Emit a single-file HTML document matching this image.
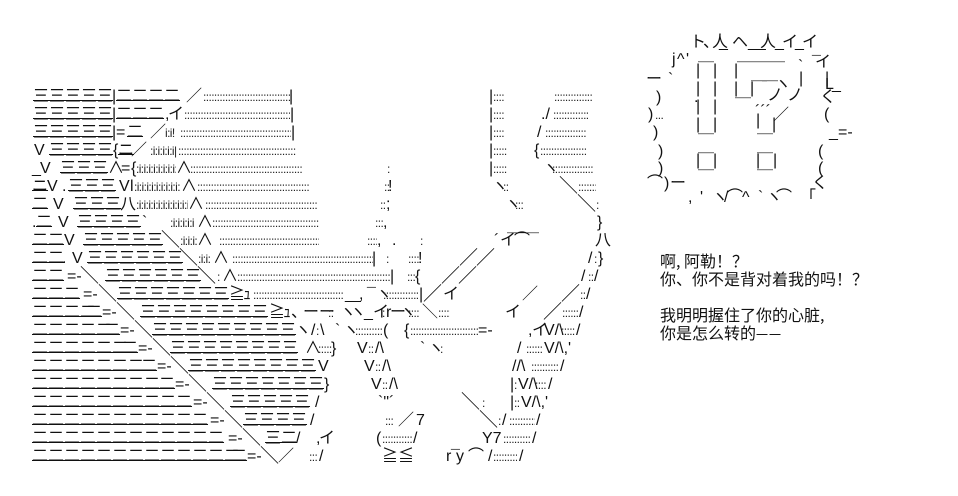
<!DOCTYPE html>
<html><head><meta charset="utf-8"><style>
html,body{margin:0;padding:0;background:#fff;width:958px;height:496px;overflow:hidden}
.r{position:absolute;left:0;width:958px;height:18px}
i,u{position:absolute;top:0;font-style:normal;text-decoration:none;white-space:pre;color:#111;font:16px/18px "Liberation Sans","WenQuanYi Zen Hei","Noto Sans CJK SC",sans-serif}
u{font-size:12px;letter-spacing:-.6px;overflow:hidden;height:18px;color:#222}
i.e{text-decoration:underline;text-decoration-thickness:1px;text-underline-offset:-1px;text-decoration-skip-ink:none}
i.k{font-size:19px}
i.h{font-family:"WenQuanYi Zen Hei","Noto Sans CJK SC",sans-serif}
.t{position:absolute;left:660px;white-space:pre;font:16px/18px "WenQuanYi Zen Hei","Noto Sans CJK SC",sans-serif;color:#111}
</style></head><body>
<div class="r" style="top:88px"><i class="e" style="left:33px">三三三三三</i><i style="left:112px">|</i><i class="e" style="left:116px">二二二二</i><i style="left:186px">／</i><u style="left:203px;width:87px">::::::::::::::::::::::::::::::::::::</u><i style="left:289px">|</i><i style="left:489px">|</i><u style="left:493px;width:11px">::::</u><u style="left:554px;width:38px">:::::::::::::::</u></div>
<div class="r" style="top:106px"><i class="e" style="left:33px">三三三三三</i><i style="left:112px">|</i><i class="e" style="left:116px">二二二</i><i style="left:165px">,</i><i style="left:168px">イ</i><u style="left:184px;width:106px">::::::::::::::::::::::::::::::::::::::::::::</u><i style="left:290px">|</i><i style="left:489px">|</i><u style="left:493px;width:11px">::::</u><i style="left:541px">./</i><u style="left:553px;width:36px">::::::::::::::</u></div>
<div class="r" style="top:124px"><i class="e" style="left:33px">三三三三三</i><i style="left:112px">|</i><i style="left:116px">=</i><i class="e" style="left:127px">二</i><i style="left:150px">／</i><u style="left:165px;width:14px">i:i!</u><u style="left:180px;width:111px">:::::::::::::::::::::::::::::::::::::::::::::::</u><i style="left:291px">|</i><i style="left:489px">|</i><i style="left:537px">/</i><u style="left:545px;width:42px">:::::::::::::::::</u><u style="left:493px;width:11px">::::</u></div>
<div class="r" style="top:142px"><i style="left:34px">V</i><i class="e" style="left:49px">三三三三</i><i style="left:113px">{</i><i class="e" style="left:118px">ニ</i><i style="left:131px">／</i><u style="left:150px;width:28px">:i:i:i:i:i|</u><u style="left:178px;width:118px">:::::::::::::::::::::::::::::::::::::::::::::::::</u><i style="left:489px">|</i><u style="left:493px;width:14px">:::::</u><i style="left:534px">{</i><u style="left:540px;width:47px">:::::::::::::::::::</u></div>
<div class="r" style="top:160px"><i style="left:32px">_</i><i style="left:40px">V</i><i class="e" style="left:60px">三三三</i><i style="left:108px">∧</i><i style="left:121px">=</i><i style="left:131px">{</i><u style="left:136px;width:40px">:i:i:i:i:i:i:i:i:</u><i style="left:176px">∧</i><u style="left:190px;width:113px">::::::::::::::::::::::::::::::::::::::::::::::</u><u style="left:387px;width:4px">:</u><i style="left:489px">|</i><u style="left:493px;width:14px">:::::</u><i style="left:543px">ヽ</i><u style="left:552px;width:42px">:::::::::::::::::</u></div>
<div class="r" style="top:178px"><i class="e" style="left:32px">ニ</i><i style="left:47px">V</i><i style="left:62px">.</i><i class="e" style="left:68px">三三三</i><i style="left:119px">V</i><i style="left:130px">l</i><u style="left:134px;width:46px">:i:i:i:i:i:i:i:i:i:</u><i style="left:181px">∧</i><u style="left:197px;width:113px">::::::::::::::::::::::::::::::::::::::::::::::</u><u style="left:384px;width:6px">::</u><i style="left:388px">!</i><i style="left:492px">ヽ</i><u style="left:503px;width:6px">::</u><i class="k" style="left:559px">＼</i><u style="left:578px;width:18px">:::::::</u></div>
<div class="r" style="top:196px"><i class="e" style="left:32px">二</i><i style="left:53px">V</i><i class="e" style="left:73px">三三三</i><i style="left:120px">八</i><u style="left:136px;width:52px">:i:i:i:i:i:i:i:i:i:i:i</u><i style="left:188px">∧</i><u style="left:205px;width:113px">::::::::::::::::::::::::::::::::::::::::::::::</u><u style="left:380px;width:6px">::</u><i style="left:386px">;</i><i style="left:505px">ヽ</i><u style="left:515px;width:8px">:::</u><i class="k" style="left:577px">＼</i><u style="left:596px;width:4px">:</u></div>
<div class="r" style="top:214px"><i style="left:32px">.</i><i class="e" style="left:36px">二</i><i style="left:58px">V</i><i class="e" style="left:77px">三三三三</i><i style="left:142px">`</i><u style="left:170px;width:27px">:i:i:i:i:i</u><i style="left:197px">∧</i><u style="left:212px;width:107px">:::::::::::::::::::::::::::::::::::::::::::</u><u style="left:375px;width:8px">:::</u><i style="left:383px">,</i><i style="left:597px">}</i></div>
<div class="r" style="top:232px"><i class="e" style="left:32px">二二</i><i style="left:64px">V</i><i class="e" style="left:83px">三三三三三</i><i class="k" style="left:161px">＼</i><u style="left:180px;width:17px">:i:i:i:</u><i style="left:197px">∧</i><u style="left:219px;width:100px">:::::::::::::::::::::::::::::::::::::::::</u><u style="left:367px;width:10px">::::</u><i style="left:377px">,</i><i style="left:392px">.</i><u style="left:420px;width:4px">:</u><i style="left:494px">´</i><i style="left:500px">イ</i><i style="left:514px">⌒</i><i style="left:595px">八</i></div>
<div class="r" style="top:223px"><i class="h" style="left:507px">──</i></div>
<div class="r" style="top:250px"><i class="e" style="left:32px">二二</i><i style="left:62px">.</i><i style="left:72px">V</i><i class="e" style="left:87px">三三三三三三</i><i class="k" style="left:179px">＼</i><u style="left:198px;width:14px">:i:i:</u><i style="left:213px">∧</i><u style="left:232px;width:141px">:::::::::::::::::::::::::::::::::::::::::::::::::::::::::</u><i style="left:372px">|</i><u style="left:386px;width:4px">:</u><u style="left:408px;width:11px">::::</u><i style="left:418px">!</i><i class="k" style="left:459px">／</i><i class="k" style="left:476px">／</i><i style="left:588px">/</i><u style="left:594px;width:4px">:</u><i style="left:598px">}</i></div>
<div class="r" style="top:268px"><i class="e" style="left:32px">二二</i><i style="left:67px">=-</i><i class="k" style="left:80px">＼</i><i class="e" style="left:105px">三三三三三三</i><i class="k" style="left:197px">＼</i><u style="left:217px;width:4px">:</u><i style="left:222px">∧</i><u style="left:237px;width:153px">:::::::::::::::::::::::::::::::::::::::::::::::::::::::::::::</u><i style="left:390px">|</i><u style="left:407px;width:8px">:::</u><i style="left:415px">{</i><i class="k" style="left:441px">／</i><i class="k" style="left:458px">／</i><i style="left:581px">/</i><u style="left:588px;width:6px">::</u><i style="left:594px">/</i></div>
<div class="r" style="top:286px"><i class="e" style="left:32px">二二二</i><i style="left:83px">=-</i><i class="k" style="left:98px">＼</i><i class="e" style="left:117px">三三三三三三三</i><i style="left:229px">≧</i><i style="left:243px">ｭ</i><u style="left:253px;width:90px">:::::::::::::::::::::::::::::::::::::</u><i style="left:345px">_</i><i style="left:352px">_</i><i style="left:359px">,</i><i style="left:367px">¯</i><i style="left:376px">ヽ</i><u style="left:383px;width:36px">:::::::::::::::</u><i style="left:419px">|</i><i class="k" style="left:423px">／</i><i style="left:443px">イ</i><i style="left:522px">／</i><i class="k" style="left:561px">／</i><u style="left:580px;width:6px">::</u><i style="left:586px">/</i></div>
<div class="r" style="top:304px"><i class="e" style="left:32px">二二二二</i><i class="e" style="left:86px">二</i><i style="left:102px">=-</i><i class="k" style="left:116px">＼</i><i class="e" style="left:140px">三三三三三三三三</i><i style="left:269px">≧</i><i style="left:283px">ｭ</i><i style="left:291px">、</i><i style="left:303px">ーー</i><u style="left:328px;width:7px">::</u><i style="left:340px">ヽ</i><i style="left:350px">ヽ</i><i style="left:364px">_</i><i style="left:373px">イ</i><u style="left:382px;width:4px">:</u><i style="left:386px">r</i><i style="left:390px">ー</i><i style="left:400px">ヽ</i><u style="left:408px;width:12px">::::</u><i style="left:422px">＼</i><u style="left:438px;width:12px">:::::</u><i style="left:505px">イ</i><i class="k" style="left:543px">／</i><u style="left:562px;width:16px">::::::</u><i style="left:579px">/</i></div>
<div class="r" style="top:322px"><i class="e" style="left:32px">二二二二二</i><i class="e" style="left:104px">二</i><i style="left:120px">=-</i><i class="k" style="left:134px">＼</i><i class="e" style="left:152px">三三三三三三三三三</i><i style="left:295px">ヽ</i><i style="left:311px">/</i><u style="left:316px;width:4px">:</u><i style="left:320px">\</i><i style="left:335px">`</i><i style="left:343px">ヽ</i><u style="left:355px;width:28px">:::::::::::</u><i style="left:383px">(</i><i style="left:404px">{</i><u style="left:410px;width:68px">:::::::::::::::::::::::::::</u><i style="left:478px">=-</i><i style="left:528px">,</i><i style="left:532px">イ</i><i style="left:544px">V/\</i><u style="left:561px;width:14px">:::::</u><i style="left:576px">/</i></div>
<div class="r" style="top:340px"><i class="e" style="left:32px">二二二二二二</i><i class="e" style="left:122px">二</i><i style="left:138px">=-</i><i class="k" style="left:152px">＼</i><i class="e" style="left:170px">三三三三三三三三</i><i style="left:305px">∧</i><u style="left:318px;width:14px">:::::</u><i style="left:331px">}</i><i style="left:357px">V</i><u style="left:368px;width:7px">::</u><i style="left:375px">/\</i><i style="left:420px">`</i><i style="left:428px">ヽ</i><u style="left:440px;width:4px">:</u><i style="left:517px">/</i><u style="left:526px;width:16px">::::::</u><i style="left:544px">V/\,'</i></div>
<div class="r" style="top:358px"><i class="e" style="left:32px">二二二二二二二</i><i class="e" style="left:141px">二</i><i style="left:157px">=-</i><i class="k" style="left:170px">＼</i><i class="e" style="left:188px">三三三三三三三三</i><i style="left:318px">V</i><i style="left:364px">V</i><u style="left:375px;width:7px">::</u><i style="left:382px">/\</i><i style="left:512px">//\</i><u style="left:531px;width:28px">::::::::::</u><i style="left:560px">/</i></div>
<div class="r" style="top:376px"><i class="e" style="left:32px">二二二二二二二二</i><i class="e" style="left:159px">二</i><i style="left:175px">=-</i><i class="k" style="left:188px">＼</i><i class="e" style="left:212px">三三三三三三三</i><i style="left:324px">}</i><i style="left:371px">V</i><u style="left:382px;width:7px">::</u><i style="left:389px">/\</i><i style="left:510px">|</i><u style="left:514px;width:4px">:</u><i style="left:518px">V/\</i><u style="left:535px;width:12px">::::</u><i style="left:548px">/</i></div>
<div class="r" style="top:394px"><i class="e" style="left:32px">二二二二二二二二二二</i><i style="left:193px">=-</i><i class="k" style="left:206px">＼</i><i class="e" style="left:230px">三三三三三</i><i style="left:315px">/</i><i style="left:378px">`"´</i><i class="k" style="left:461px">＼</i><u style="left:482px;width:4px">:</u><i style="left:510px">|</i><u style="left:514px;width:7px">::</u><i style="left:521px">V/\,'</i></div>
<div class="r" style="top:412px"><i class="e" style="left:32px">二二二二二二二二二二二</i><i style="left:210px">=-</i><i class="k" style="left:224px">＼</i><i class="e" style="left:243px">三三三三</i><i style="left:310px">/</i><u style="left:385px;width:8px">:::</u><i style="left:398px">／</i><i style="left:416px">7</i><i class="k" style="left:479px">＼</i><u style="left:498px;width:4px">:</u><i style="left:502px">/</i><u style="left:509px;width:26px">::::::::::</u><i style="left:536px">/</i></div>
<div class="r" style="top:430px"><i class="e" style="left:32px">二二二二二二二二二二二二</i><i style="left:228px">=-</i><i class="k" style="left:242px">＼</i><i class="e" style="left:265px">三二</i><i style="left:296px">/</i><i style="left:316px">,</i><i style="left:319px">イ</i><i style="left:376px">(</i><u style="left:382px;width:30px">:::::::::::</u><i style="left:413px">/</i><i style="left:482px">Y7</i><u style="left:503px;width:28px">:::::::::::</u><i style="left:532px">/</i></div>
<div class="r" style="top:448px"><i class="e" style="left:32px">二二二二二二二二二二二二二</i><i class="e" style="left:231px">二</i><i style="left:247px">=-</i><i class="k" style="left:260px">＼</i><i style="left:278px">／</i><u style="left:309px;width:10px">:::</u><i style="left:319px">/</i><i style="left:382px">≧</i><i style="left:398px">≦</i><i style="left:446px">r</i><i style="left:451px">¯</i><i style="left:456px">y</i><i style="left:468px">⌒</i><i style="left:488px">/</i><u style="left:493px;width:24px">:::::::::</u><i style="left:519px">/</i></div>

<div class="r" style="top:34px"><i style="left:690px">ト</i><i style="left:703px">、_</i><i style="left:712px">人</i><i style="left:732px">ヘ</i><i style="left:748px">__</i><i style="left:760px">人</i><i style="left:775px">_</i><i style="left:782px">イ</i><i style="left:795px">_</i><i style="left:802px">イ</i></div>
<div class="r" style="top:51px"><i style="left:672px">j</i><i style="left:677px">^</i><i style="left:686px">'</i></div>
<div class="r" style="top:52px"><i class="h" style="left:698px">─</i><i class="h" style="left:737px">───</i></div>
<div class="r" style="top:54px"><i style="left:812px">¯</i><i style="left:815px">イ</i></div>
<div class="r" style="top:62px"><i style="left:696px">|</i><i style="left:713px">|</i><i style="left:734px">|</i></div>
<div class="r" style="top:80px"><i style="left:696px">|</i><i style="left:713px">|</i><i style="left:734px">|</i><i style="left:750px">|</i></div>
<div class="r" style="top:98px"><i style="left:696px">|</i><i style="left:713px">|</i></div>
<div class="r" style="top:116px"><i style="left:696px">|</i><i style="left:713px">|</i><i style="left:772px">|</i></div>
<div class="r" style="top:112px"><i style="left:756px">|</i></div>
<div class="r" style="top:58px"><i style="left:798px">`</i></div>
<div class="r" style="top:70px"><i style="left:799px">|</i><i style="left:825px">|</i></div>
<div class="r" style="top:71px"><i class="h" style="left:751px;letter-spacing:-5px">──</i><i style="left:646px">ー</i><i style="left:668px">`</i></div>
<div class="r" style="top:76px"><i style="left:775px">ヽ</i><i style="left:825px">L</i><i style="left:832px">_</i></div>
<div class="r" style="top:87px"><i style="left:787px">ノ</i><i style="left:767px">ノ</i></div>
<div class="r" style="top:88px"><i class="h" style="left:735px">─</i></div>
<div class="r" style="top:89px"><i style="left:656px">)</i><i style="left:694px">.</i><i style="left:820px">く</i></div>
<div class="r" style="top:107px"><i style="left:773px">／</i></div>
<div class="r" style="top:103px"><i style="left:755px">´´´</i></div>
<div class="r" style="top:106px"><i style="left:648px">)</i><u style="left:655px;width:9px">...</u><i style="left:824px">(</i></div>
<div class="r" style="top:124px"><i style="left:653px">)</i><i class="h" style="left:698px">─</i><i class="h" style="left:757px">─</i><i style="left:829px">_</i><i style="left:838px">=-</i></div>
<div class="r" style="top:143px"><i style="left:658px">)</i><i class="h" style="left:698px">─</i><i class="h" style="left:757px">─</i><i style="left:818px">(</i></div>
<div class="r" style="top:152px"><i style="left:696px">|</i><i style="left:713px">|</i><i style="left:756px">|</i><i style="left:773px">|</i></div>
<div class="r" style="top:160px"><i style="left:658px">)</i><i class="h" style="left:698px">─</i><i class="h" style="left:757px">─</i><i style="left:818px">(</i></div>
<div class="r" style="top:175px"><i style="left:647px">⌒</i><i style="left:664px">)</i><i style="left:670px">ー</i><i style="left:812px">く</i></div>
<div class="r" style="top:189px"><i style="left:688px">,</i><i style="left:700px">'</i><i style="left:712px">ヽ</i><i style="left:724px">/</i><i style="left:727px">⌒</i><i style="left:742px">^</i><i style="left:758px">`</i><i style="left:766px">ヽ</i><i style="left:776px">⌒</i><i style="left:800px">「</i></div>

<div class="t" style="top:251px">啊, 阿勒！？</div>
<div class="t" style="top:269px">你、你不是背对着我的吗！？</div>
<div class="t" style="top:305px">我明明握住了你的心脏,</div>
<div class="t" style="top:323px">你是怎么转的<span style="font-size:12px;letter-spacing:1px">一一</span></div>
</body></html>
